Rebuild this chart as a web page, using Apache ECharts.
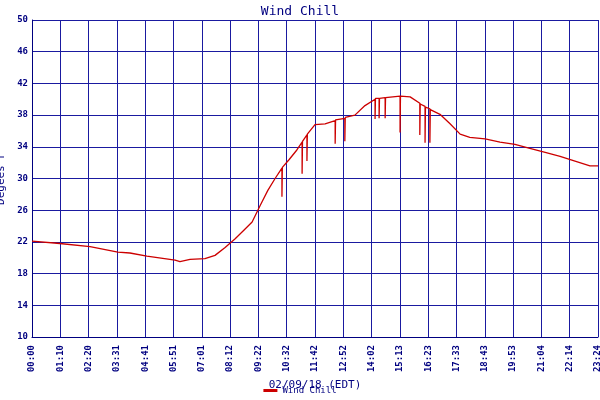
<!DOCTYPE html>
<html><head><meta charset="utf-8">
<script src="https://cdn.jsdelivr.net/npm/echarts@6/dist/echarts.min.js"></script>
<style>html,body{margin:0;background:#fff}#c{width:600px;height:400px}</style>
</head><body><div id="c"></div>
<script>
// minutes since midnight, wind chill (F)
var minutes = [0,69,144,213,243,285,355,367,392,429,454,479,504,528,546,566,585,603,620,620,621,638,657,670,670,671,682,682,683,702,727,752,752,753,776,776,777,801,826,851,851,852,861,861,862,876,876,877,913,913,914,938,962,962,963,975,975,976,987,987,988,1012,1037,1062,1086,1124,1161,1198,1235,1273,1310,1347,1384,1404];
var chill   = [22.1,21.8,21.4,20.7,20.6,20.2,19.7,19.5,19.8,19.9,20.3,21.3,22.4,23.6,24.5,26.6,28.5,30,31.3,27.7,31.4,32.4,33.6,34.6,30.6,34.7,35.5,32.2,35.6,36.8,36.9,37.3,34.4,37.4,37.6,34.7,37.7,38,39.2,40,37.5,40.1,40.1,37.6,40.1,40.2,37.6,40.2,40.4,35.8,40.4,40.3,39.5,35.5,39.4,39.1,34.5,39,38.8,34.5,38.7,38.1,36.9,35.6,35.2,35,34.6,34.3,33.8,33.3,32.8,32.2,31.6,31.6];
var tickLabels = ['00:00','01:10','02:20','03:31','04:41','05:51','07:01','08:12','09:22','10:32','11:42','12:52','14:02','15:13','16:23','17:33','18:43','19:53','21:04','22:14','23:24'];

var pts = minutes.map(function(m, i) { return [m, chill[i]]; });
var navy = '#000080';
var gridBlue = '#1a1aa0';
var chart = echarts.init(document.getElementById('c'));
chart.setOption({
	animation: false,
	textStyle: { fontFamily: 'DejaVu Sans Mono' },
	title: { text: 'Wind Chill', left: 'center', top: 0, textStyle: { color: navy, fontSize: 13, fontWeight: 'normal', fontFamily: 'DejaVu Sans Mono' } },
	grid: { left: 32, right: 2, top: 20, bottom: 63, containLabel: false, outerBoundsMode: 'none' },
	legend: { bottom: 0, itemWidth: 14, itemHeight: 3, icon: 'rect', textStyle: { color: navy, fontSize: 9 }, data: ['Wind Chill'] },
	xAxis: {
		type: 'value', min: 0, max: 1404, interval: 70.2,
		name: '02/09/18 (EDT)', nameLocation: 'middle', nameGap: 43,
		nameTextStyle: { color: navy, fontSize: 11 },
		axisLine: { lineStyle: { color: navy } },
		axisTick: { show: false },
		axisLabel: { rotate: 90, color: navy, fontSize: 9, fontWeight: 'bold', formatter: function(v) { return tickLabels[Math.round(v / 70.2)] || ''; } },
		splitLine: { show: true, lineStyle: { color: gridBlue, width: 1 } }
	},
	yAxis: {
		type: 'value', min: 10, max: 50, interval: 4,
		name: 'Degees F', nameLocation: 'middle', nameGap: 22,
		nameTextStyle: { color: navy, fontSize: 11 },
		axisLine: { show: true, lineStyle: { color: navy } },
		axisTick: { show: false },
		axisLabel: { color: navy, fontSize: 9, fontWeight: 'bold', margin: 4 },
		splitLine: { lineStyle: { color: gridBlue, width: 1 } }
	},
	series: [{
		name: 'Wind Chill', type: 'line', data: pts, showSymbol: false,
		lineStyle: { color: '#cc0000', width: 1.3 }, itemStyle: { color: '#cc0000' }
	}]
});
</script></body></html>
